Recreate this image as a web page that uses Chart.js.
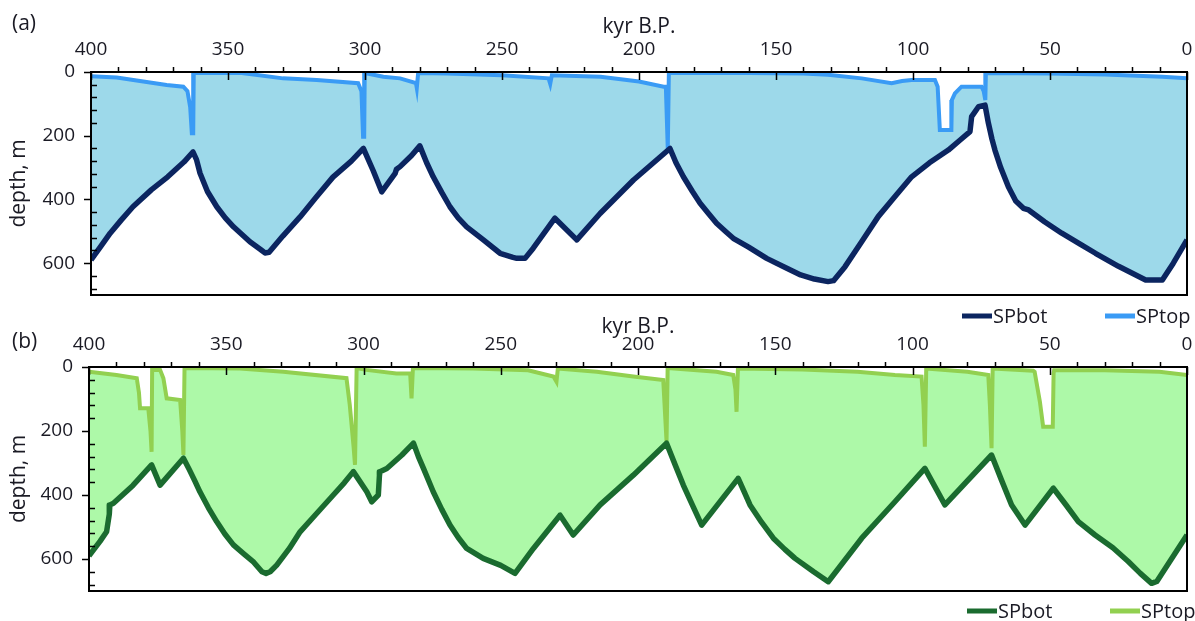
<!DOCTYPE html>
<html>
<head>
<meta charset="utf-8">
<script src="https://cdn.jsdelivr.net/npm/chart.js@4.4.1/dist/chart.umd.min.js"></script>
<style>
  body { margin: 0; background: #fff; width: 1195px; height: 621px; position: relative; overflow: hidden; }
  .panel { position: absolute; left: 0; width: 1195px; }
</style>
</head>
<body>
<div class="panel" style="top:0;height:330px"><canvas id="chartA"></canvas></div>
<div class="panel" style="top:296px;height:325px"><canvas id="chartB"></canvas></div>
<script>
// (a) SPbot / SPtop, kyr B.P. vs depth in m
const botAgeA = [400, 396.5, 393, 389, 384.7, 378, 372, 366, 362.8, 361.5, 360.2, 357.5, 354.1, 351, 348, 342, 338, 336.5, 335, 330, 323.7, 318, 311.7, 305, 300.6, 297, 293.9, 289, 288.5, 287.2, 283, 280, 277.5, 275.1, 272, 269, 266, 262.9, 256.8, 250.7, 246, 244.6, 241.6, 238.6, 230.7, 222.7, 214.2, 202, 188.7, 186.5, 183.8, 180.5, 177.7, 174.5, 171.7, 168.5, 165.6, 160, 153.4, 147, 141, 136, 131, 129, 124.8, 118.5, 112.7, 106.5, 100.5, 94, 87.1, 83, 79.2, 78.6, 76.1, 73.7, 72.5, 71.2, 70.1, 68, 65.2, 62.5, 59.7, 57.8, 52, 45.7, 39, 33.4, 25, 15.1, 9, 5, 0];
const botDepthA = [590, 548, 506, 465, 423, 370, 329, 282, 251, 275, 318, 375, 423, 458, 486, 533, 558, 568, 566, 515, 455, 395, 330, 280, 240, 310, 376, 318, 305, 297, 262, 232, 285, 329, 378, 423, 458, 486, 527, 569, 582, 585, 585, 553, 459, 527, 444, 339, 240, 285, 329, 375, 412, 446, 475, 500, 522, 550, 585, 612, 637, 650, 658, 655, 611, 530, 454, 390, 329, 285, 245, 215, 187, 140, 109, 104, 160, 210, 245, 300, 360, 405, 428, 433, 470, 506, 540, 569, 610, 653, 653, 600, 527];
const topAgeA = [400, 390.6, 380.9, 372.4, 366.3, 364.8, 363.8, 363.2, 362.7, 362.5, 345, 329.9, 317.6, 302.5, 301.3, 300.7, 300.3, 300.1, 293.3, 287.2, 281.4, 281.1, 280.6, 270, 250, 233, 232.4, 231.8, 214, 200, 191, 190.2, 189.5, 189.1, 160, 140, 131, 118.7, 107.8, 104, 100.5, 92, 91, 90.2, 86, 85.8, 84.7, 82.3, 75, 74.2, 73.6, 73.4, 50, 30, 9, 0];
const topDepthA = [13, 17, 30, 41, 46, 60, 110, 192, 192, 3, 3, 20, 25, 35, 60, 203, 203, 3, 15, 20, 35, 50, 3, 5, 10, 20, 37, 10, 15, 30, 46, 46, 240, 3, 3, 5, 9, 20, 35, 28, 25, 25, 46, 182, 182, 88, 67, 46, 46, 60, 88, 3, 5, 8, 15, 20];

// (b)
const botAgeB = [400, 396, 393.6, 392.6, 392.4, 391.1, 384, 377.2, 374.1, 365.6, 363.5, 361.5, 359.6, 356.5, 353.5, 350.5, 347.4, 343.5, 340, 337, 335.5, 334, 331.6, 327, 323.1, 317, 311, 307, 303.7, 298.8, 297, 294.6, 294.2, 294, 291.5, 286, 281.8, 280, 278, 274.6, 271.5, 268.5, 265.5, 262.4, 256.4, 250, 244.8, 238.1, 228.4, 223.6, 213.8, 201.7, 189.6, 186.5, 183.5, 180, 176.8, 163.5, 161.3, 159.2, 155, 150.7, 146.5, 142.8, 136, 130.7, 118.5, 106.4, 95.5, 88.2, 71.2, 67.5, 63.9, 59, 48.7, 44, 39.6, 33.5, 27, 21.4, 17, 12.9, 11, 0];
const botDepthB = [590, 545, 515, 460, 431, 426, 370, 306, 369, 285, 320, 355, 390, 440, 483, 522, 556, 585, 610, 640, 645, 640, 619, 567, 515, 457, 400, 362, 327, 390, 421, 400, 340, 327, 317, 275, 238, 280, 320, 390, 445, 494, 533, 567, 598, 620, 645, 567, 463, 525, 431, 338, 238, 305, 369, 435, 494, 348, 390, 431, 485, 535, 570, 598, 640, 671, 535, 421, 317, 431, 275, 355, 431, 494, 379, 432, 483, 525, 565, 608, 645, 676, 670, 525];
const topAgeB = [400, 390, 382.6, 381.8, 381.4, 378.4, 377.6, 377.2, 377, 374.1, 372.9, 371.7, 366.8, 366, 365.6, 365.2, 345, 329.2, 306.2, 305, 303.6, 303.1, 302.5, 299, 288, 283, 282.5, 282, 260, 240, 230.8, 229.7, 229.2, 215, 201.7, 190.8, 189.6, 189.2, 171.4, 165.3, 164.5, 164.1, 163.6, 140, 120, 106.4, 96.7, 96, 95.5, 95, 80, 72.4, 71.8, 71.2, 70.8, 56, 55.5, 53.6, 52.4, 48.9, 48.6, 48.4, 30, 10, 0];
const topDepthB = [15, 25, 35, 80, 129, 129, 200, 265, 9, 9, 35, 98, 103, 200, 275, 3, 5, 15, 35, 119, 250, 306, 3, 9, 20, 20, 98, 3, 5, 10, 30, 46, 5, 15, 30, 41, 233, 3, 15, 25, 70, 140, 5, 8, 15, 25, 30, 120, 249, 5, 15, 25, 120, 254, 5, 12, 15, 108, 187, 187, 20, 10, 10, 15, 25];

const xTicks = [0, 50, 100, 150, 200, 250, 300, 350, 400];
const yTicks = [0, 200, 400, 600];

const FONT = '"Open Sans", "Noto Sans", sans-serif';
const TEXT = '#1a1a24';

function pts(ages, depths) {
    return ages.map((a, i) => ({ x: a, y: depths[i] })).reverse();
}

// excel-ish tick marks, frame, panel tag and legend
const panelDecor = {
    id: 'panelDecor',
    afterDraw(chart, args, opts) {
        const { ctx, chartArea: a, scales: { x, y } } = chart;
        ctx.save();
        ctx.strokeStyle = '#000';
        ctx.lineWidth = 1.5;
        ctx.beginPath();
        for (let v = 0; v <= 400; v += 10) {
            const px = Math.round(x.getPixelForValue(v)) + 0.5;
            if (v % 50 === 0) { ctx.moveTo(px, a.top); ctx.lineTo(px, a.top + 8); }
            else { ctx.moveTo(px, a.top); ctx.lineTo(px, a.top - 5); }
        }
        for (let v = 0; v <= 700; v += 40) {
            const py = Math.round(y.getPixelForValue(v)) + 0.5;
            if (v % 200 === 0) { ctx.moveTo(a.left, py); ctx.lineTo(a.left - 7, py); }
            else { ctx.moveTo(a.left, py); ctx.lineTo(a.left + 6, py); }
        }
        ctx.stroke();
        ctx.lineWidth = 2;
        ctx.strokeRect(a.left, a.top, a.width, a.height);

        ctx.fillStyle = TEXT;
        ctx.font = '21px ' + FONT;
        ctx.textBaseline = 'middle';
        ctx.textAlign = 'left';
        ctx.fillText(opts.tag, opts.tagX, opts.tagY);

        ctx.font = '20px ' + FONT;
        opts.legend.forEach(item => {
            const ds = chart.data.datasets[item.index];
            ctx.strokeStyle = ds.borderColor;
            ctx.lineWidth = 5;
            ctx.beginPath();
            ctx.moveTo(item.x, opts.legendY);
            ctx.lineTo(item.x + 30, opts.legendY);
            ctx.stroke();
            ctx.fillText(ds.label, item.x + 31, opts.legendY + 1);
        });
        ctx.restore();
    }
};

function makePanel(id, cfg) {
    return new Chart(document.getElementById(id), {
        type: 'line',
        data: {
            datasets: [
                {
                    label: 'SPbot', data: pts(cfg.botAge, cfg.botDepth),
                    borderColor: cfg.botColor, borderWidth: 5.5, backgroundColor: cfg.fillColor,
                    fill: '+1', pointRadius: 0, tension: 0, borderJoinStyle: 'round'
                },
                {
                    label: 'SPtop', data: pts(cfg.topAge, cfg.topDepth),
                    borderColor: cfg.topColor, borderWidth: 4, fill: false,
                    pointRadius: 0, tension: 0
                }
            ]
        },
        options: {
            responsive: true,
            maintainAspectRatio: false,
            animation: false,
            layout: { padding: { left: 0, right: 1195 - cfg.right, top: 0, bottom: cfg.padBottom } },
            plugins: {
                legend: { display: false },
                tooltip: { enabled: false },
                filler: { drawTime: 'beforeDatasetsDraw' },
                panelDecor: cfg.decor
            },
            scales: {
                x: {
                    type: 'linear', position: 'top', reverse: true, min: 0, max: 400,
                    afterBuildTicks: s => { s.ticks = xTicks.map(v => ({ value: v })); },
                    ticks: { padding: 3, color: TEXT, font: { family: FONT, size: 19 }, maxRotation: 0, autoSkip: false },
                    grid: { display: false },
                    border: { display: false },
                    title: {
                        display: true, text: 'kyr B.P.', color: TEXT,
                        font: { family: FONT, size: 21 }, padding: { top: cfg.titlePad, bottom: 0 }
                    },
                    afterFit: s => { s.height = cfg.axisTop; }
                },
                y: {
                    type: 'linear', reverse: true, min: 0, max: 700,
                    afterBuildTicks: s => { s.ticks = yTicks.map(v => ({ value: v })); },
                    ticks: { padding: 8, color: TEXT, font: { family: FONT, size: 19 } },
                    grid: { display: false },
                    border: { display: false },
                    title: {
                        display: true, text: 'depth, m', color: TEXT,
                        font: { family: FONT, size: 21 }, padding: { top: 6, bottom: 0 }
                    },
                    afterFit: s => { s.width = cfg.left; }
                }
            }
        },
        plugins: [panelDecor]
    });
}

makePanel('chartA', {
    botAge: botAgeA, botDepth: botDepthA, topAge: topAgeA, topDepth: topDepthA,
    botColor: '#0b2560', topColor: '#3a9bf5', fillColor: '#9dd9ea',
    left: 91, right: 1187, axisTop: 72, padBottom: 35, titlePad: 14,
    decor: { tag: '(a)', tagX: 12, tagY: 24, legendY: 316, legend: [{ index: 0, x: 962 }, { index: 1, x: 1105 }] }
});

makePanel('chartB', {
    botAge: botAgeB, botDepth: botDepthB, topAge: topAgeB, topDepth: topDepthB,
    botColor: '#1a6b2f', topColor: '#92d050', fillColor: '#adf9a8',
    left: 89, right: 1187, axisTop: 71, padBottom: 30, titlePad: 18,
    decor: { tag: '(b)', tagX: 12, tagY: 46, legendY: 315, legend: [{ index: 0, x: 967 }, { index: 1, x: 1110 }] }
});
</script>
</body>
</html>
